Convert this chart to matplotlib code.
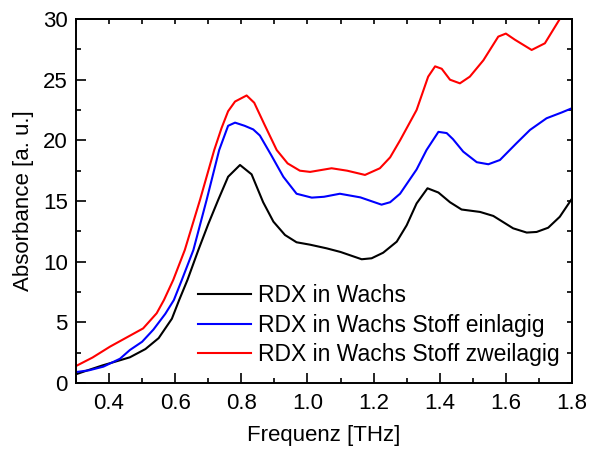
import matplotlib.pyplot as plt
import numpy as np

plt.rcParams['font.family'] = ['Liberation Sans', 'DejaVu Sans']
plt.rcParams['font.size'] = 16

# RDX in Wachs
f_wachs = [0.30, 0.33, 0.38, 0.43, 0.463, 0.51, 0.55, 0.59, 0.612, 0.637, 0.67, 0.70,
           0.73, 0.76, 0.796, 0.831, 0.866, 0.897, 0.932, 0.967, 1.008, 1.058, 1.10,
           1.164, 1.194, 1.229, 1.27, 1.30, 1.33, 1.363, 1.396, 1.431, 1.466, 1.522,
           1.562, 1.622, 1.663, 1.693, 1.728, 1.763, 1.80]
a_wachs = [0.72, 1.0, 1.45, 1.85, 2.12, 2.8, 3.7, 5.3, 6.84, 8.49, 10.96, 13.1,
           15.09, 17.0, 17.97, 17.2, 14.9, 13.3, 12.2, 11.6, 11.4, 11.1, 10.8,
           10.2, 10.28, 10.74, 11.65, 13.0, 14.8, 16.05, 15.7, 14.9, 14.3, 14.1,
           13.77, 12.75, 12.4, 12.45, 12.8, 13.7, 15.2]

# RDX in Wachs, Stoff einlagig
f_ein = [0.30, 0.34, 0.383, 0.433, 0.463, 0.50, 0.534, 0.57, 0.596, 0.62, 0.655, 0.695,
         0.733, 0.76, 0.781, 0.81, 0.836, 0.856, 0.89, 0.927, 0.967, 1.013, 1.05,
         1.098, 1.16, 1.224, 1.25, 1.28, 1.33, 1.36, 1.396, 1.421, 1.44, 1.471,
         1.512, 1.547, 1.582, 1.632, 1.673, 1.723, 1.769, 1.80]
a_ein = [0.9, 1.05, 1.35, 2.0, 2.72, 3.4, 4.4, 5.7, 6.84, 8.49, 10.96, 15.09,
         19.2, 21.2, 21.46, 21.2, 20.9, 20.4, 18.8, 17.0, 15.6, 15.28, 15.35,
         15.6, 15.3, 14.7, 14.9, 15.6, 17.6, 19.2, 20.7, 20.6, 20.1, 19.07,
         18.2, 18.03, 18.38, 19.76, 20.86, 21.82, 22.3, 22.65]

# RDX in Wachs, Stoff zweilagig
f_zwei = [0.30, 0.35, 0.403, 0.463, 0.503, 0.544, 0.566, 0.594, 0.629, 0.675, 0.718,
          0.74, 0.76, 0.781, 0.816, 0.839, 0.87, 0.907, 0.94, 0.977, 1.008, 1.073,
          1.12, 1.174, 1.219, 1.25, 1.28, 1.33, 1.365, 1.386, 1.406, 1.431, 1.461,
          1.491, 1.532, 1.577, 1.60, 1.627, 1.678, 1.718, 1.763, 1.80]
a_zwei = [1.4, 2.1, 3.0, 3.9, 4.5, 5.75, 6.84, 8.49, 10.96, 15.09, 19.2,
          21.0, 22.4, 23.2, 23.7, 23.1, 21.3, 19.2, 18.1, 17.5, 17.4, 17.7,
          17.5, 17.15, 17.7, 18.6, 20.0, 22.5, 25.25, 26.1, 25.9, 25.0, 24.7,
          25.25, 26.6, 28.55, 28.8, 28.3, 27.45, 28.0, 30.0, 32.0]

fig = plt.figure(figsize=(5.9, 4.53), dpi=100)
ax = fig.add_axes([0.1288, 0.1545, 0.8407, 0.8035])

ax.plot(f_wachs, a_wachs, color='black', lw=1.5, label='RDX in Wachs')
ax.plot(f_ein, a_ein, color='#0000ff', lw=1.5, label='RDX in Wachs Stoff einlagig')
ax.plot(f_zwei, a_zwei, color='#ff0000', lw=1.5, label='RDX in Wachs Stoff zweilagig')

ax.set_xlim(0.3, 1.8)
ax.set_ylim(0, 30)
ax.set_xticks(np.arange(0.4, 1.81, 0.2))
ax.set_xticks(np.arange(0.3, 1.81, 0.1), minor=True)
ax.set_yticks(np.arange(0, 31, 5))
ax.set_yticks(np.arange(0, 31, 2.5), minor=True)
ax.xaxis.set_major_formatter(plt.FormatStrFormatter('%.1f'))
ax.tick_params(which='both', direction='in', width=1.2)
ax.tick_params(which='major', length=7)
ax.tick_params(which='minor', length=3.5)
ax.tick_params(axis='x', pad=7)
ax.tick_params(axis='y', pad=6)

# ticks on top and right without labels
top = ax.secondary_xaxis('top')
top.set_xticks(np.arange(0.3, 1.81, 0.1))
top.set_xticklabels([])
top.tick_params(direction='in', length=3.5, width=1.2)
right = ax.secondary_yaxis('right')
right.set_yticks(np.arange(0, 31, 2.5))
right.set_yticklabels([])
right.tick_params(direction='in', length=3.5, width=1.2)

for sp in list(ax.spines.values()) + [top.spines['top'], right.spines['right']]:
    sp.set_linewidth(1.4)

ax.set_xlabel('Frequenz [THz]', labelpad=8)
ax.set_ylabel('Absorbance [a. u.]', labelpad=6)

ax.legend(loc='lower left', bbox_to_anchor=(0.222, 0.014), frameon=False,
          fontsize=16.5, handlelength=2.35, handletextpad=0.3, labelspacing=0.3,
          borderpad=0)

fig.savefig('out.png', dpi=100)
